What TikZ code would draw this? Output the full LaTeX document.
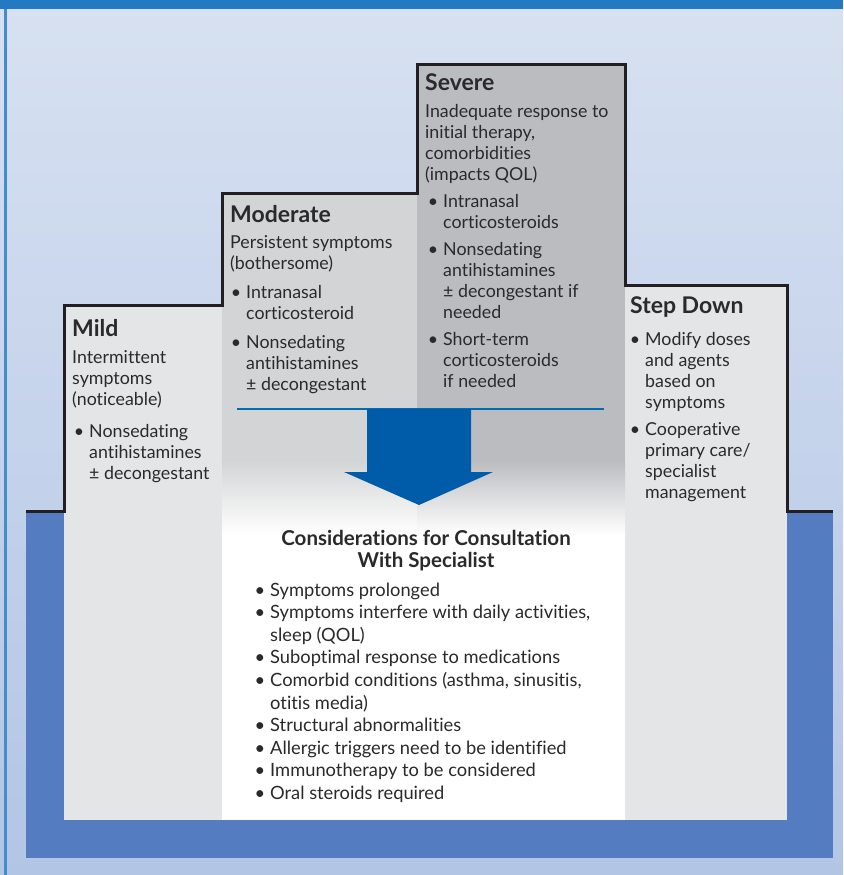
\documentclass[tikz,border=0pt]{standalone}
\usepackage{fontspec}
\setmainfont{Lato}[Ligatures=NoCommon]
\definecolor{bgtop}{HTML}{D7E1F1}
\definecolor{bgbot}{HTML}{B3C5E5}
\definecolor{band}{HTML}{2379C2}
\definecolor{blueblock}{HTML}{547DC1}
\definecolor{lightcol}{HTML}{E4E5E7}
\definecolor{modgray}{HTML}{D3D4D6}
\definecolor{sevgray}{HTML}{BBBCC0}
\definecolor{outl}{HTML}{231F20}
\definecolor{arrowblue}{HTML}{005CA9}
\definecolor{txt}{HTML}{2A2A2C}
\newcommand\bl{\llap{\textbullet\hspace{5pt}}}
\newcommand\lns[1]{\begin{tabular}[t]{@{}l@{}}#1\end{tabular}}
\newcommand\clns[1]{\begin{tabular}[t]{@{}c@{}}#1\end{tabular}}
\tikzset{
  head/.style={anchor=base west, inner sep=0pt, text=txt, font=\fontsize{23}{26}\selectfont\bfseries},
  body/.style={anchor=base west, inner sep=0pt, text=txt, font=\fontsize{17.8}{21}\selectfont},
  listtxt/.style={anchor=base west, inner sep=0pt, text=txt, font=\fontsize{18.3}{22.6}\selectfont},
  title/.style={anchor=base, inner sep=0pt, text=txt, font=\fontsize{20.5}{22}\selectfont\bfseries},
  stepline/.style={draw=outl, line width=3pt, line join=miter}
}
\begin{document}
\begin{tikzpicture}[x=1pt,y=-1pt]
\useasboundingbox (0,0) rectangle (843,875);
% background
\shade[top color=bgtop, bottom color=bgbot] (0,0) rectangle (843,875);
\fill[band] (0,0) rectangle (843,9);
\fill[band!85!white] (4,9) rectangle (6.5,875);
% bottom blue block
\fill[blueblock] (26,511) rectangle (833,858);
% columns
\fill[lightcol] (64,305) rectangle (222,820);
\fill[lightcol] (625,285) rectangle (787,820);
\fill[modgray] (222,193) rectangle (417,460);
\shade[top color=modgray, bottom color=white] (222,460) rectangle (417,535);
\fill[sevgray] (417,65) rectangle (625,460);
\shade[top color=sevgray, bottom color=white] (417,460) rectangle (625,535);
\fill[white] (222,535) rectangle (625,820);
% step outline
\draw[stepline] (26,511) -- (64,511) -- (64,305) -- (222,305) -- (222,193) -- (417,193) -- (417,65) -- (625,65) -- (625,285) -- (787,285) -- (787,511) -- (833,511);
% blue line and arrow
\coordinate (la) at (237,409);
\coordinate (lb) at (604,409);
\draw[arrowblue!90!cyan, line width=2pt] (la) -- (lb);
\fill[arrowblue] (367,409) -- (471,409) -- (471,472) -- (493,472) -- (419,505) -- (344,472) -- (367,472) -- cycle;
% Mild
\node[head] (mildh) at (72,336) {Mild};
\node[body] (mildd) at (72,363) {\lns{Intermittent\\symptoms\\(noticeable)}};
\node[body] (mildb) at (89,437) {\lns{\bl Nonsedating\\antihistamines\\± decongestant}};
% Moderate
\node[head] (modh) at (230,222) {Moderate};
\node[body] (modd) at (230,248) {\lns{Persistent symptoms\\(bothersome)}};
\node[body] (modb1) at (246,298) {\lns{\bl Intranasal\\corticosteroid}};
\node[body] (modb2) at (246,348) {\lns{\bl Nonsedating\\antihistamines\\± decongestant}};
% Severe
\node[head] (sevh) at (425,90) {Severe};
\node[body] (sevd) at (425,117) {\lns{Inadequate response to\\initial therapy,\\comorbidities\\(impacts QOL)}};
\node[body] (sevb1) at (443,207) {\lns{\bl Intranasal\\corticosteroids}};
\node[body] (sevb2) at (443,255) {\lns{\bl Nonsedating\\antihistamines\\± decongestant if\\needed}};
\node[body] (sevb3) at (443,345) {\lns{\bl Short-term\\corticosteroids\\if needed}};
% Step Down
\node[head] (sdh) at (630,313) {Step Down};
\node[body] (sdb1) at (645,345) {\lns{\bl Modify doses\\and agents\\based on\\symptoms}};
\node[body] (sdb2) at (645,435) {\lns{\bl Cooperative\\primary care/\\specialist\\management}};
% Considerations
\node[title] (ct) at (426,545) {\clns{Considerations for Consultation\\With Specialist}};
\node[listtxt] (cl) at (270,596) {\lns{\bl Symptoms prolonged\\
\bl Symptoms interfere with daily activities,\\
sleep (QOL)\\
\bl Suboptimal response to medications\\
\bl Comorbid conditions (asthma, sinusitis,\\
otitis media)\\
\bl Structural abnormalities\\
\bl Allergic triggers need to be identified\\
\bl Immunotherapy to be considered\\
\bl Oral steroids required}};
\end{tikzpicture}
\end{document}
